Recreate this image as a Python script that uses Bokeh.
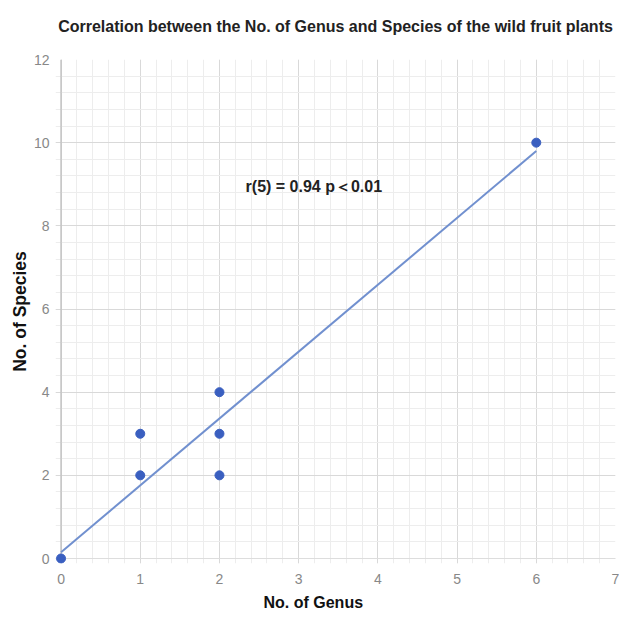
from bokeh.plotting import figure
from bokeh.models import Range1d, SingleIntervalTicker, Label, ColumnDataSource, Span, Title
from bokeh.embed import file_html
from bokeh.resources import INLINE

# Data
genus = [0, 1, 1, 2, 2, 2, 6]
species = [0, 2, 3, 2, 3, 4, 10]
trend_x = [0, 6]
trend_y = [0.15, 9.8]
title_text = "Correlation between the No. of Genus and Species of the wild fruit plants"
x_label = "No. of Genus"
y_label = "No. of Species"
annotation = "r(5) = 0.94 p\uff1c0.01"
annot_x = 2.33
annot_y = 8.95

FONT = "Liberation Sans"

p = figure(width=619, height=621, output_backend="svg", toolbar_location=None, title=None,
           x_range=Range1d(-0.07, 7), y_range=Range1d(-0.12, 12),
           min_border_left=55, min_border_right=4, min_border_top=59, min_border_bottom=58)

# spacer between plot area and title, then the title itself
p.add_layout(Title(text=" ", text_font_size="1px", standoff=22), "above")
p.add_layout(Title(text=title_text, align="center", text_font=FONT, text_font_size="16px",
                   text_font_style="bold", text_color="#222222", standoff=0), "above")

p.outline_line_color = None
p.background_fill_color = "white"
p.border_fill_color = "white"

p.xaxis.ticker = SingleIntervalTicker(interval=1, num_minor_ticks=5)
p.yaxis.ticker = SingleIntervalTicker(interval=2, num_minor_ticks=5)

for ax in (p.xaxis[0], p.yaxis[0]):
    ax.major_tick_line_color = None
    ax.minor_tick_line_color = None
    ax.axis_line_color = None
    ax.major_label_text_font = FONT
    ax.major_label_text_font_size = "14px"
    ax.major_label_text_color = "#888888"
    ax.axis_label_text_font = FONT
    ax.axis_label_text_font_style = "bold"
    ax.axis_label_text_color = "#111111"

p.yaxis.axis_label = y_label
p.yaxis.axis_label_text_font_size = "17.5px"
p.xaxis.major_label_standoff = 4
p.yaxis.major_label_standoff = 0
p.yaxis.axis_label_standoff = 1

for g in (p.xgrid[0], p.ygrid[0]):
    g.grid_line_color = "#d9d9d9"
    g.minor_grid_line_color = "#ededed"

p.add_layout(Span(location=0, dimension="height", line_color="#c4c4c4", line_width=1.5, level="underlay"))
p.add_layout(Span(location=0, dimension="width", line_color="#dddddd", line_width=1, level="underlay"))

src = ColumnDataSource(dict(x=genus, y=species))
p.line(trend_x, trend_y, line_color="#7190cf", line_width=2)
p.scatter("x", "y", source=src, size=9, fill_color="#3a5fc0", line_color="#3a5fc0")

p.add_layout(Label(x=annot_x, y=annot_y, text=annotation, text_font=FONT,
                   text_font_size="16px", text_font_style="bold", text_color="#222222",
                   text_baseline="middle", text_align="left"))

p.add_layout(Title(text=x_label, align="left", offset=208, text_font=FONT,
                   text_font_size="16px", text_font_style="bold", text_color="#111111",
                   standoff=10), "below")

open("out.html", "w").write(file_html(p, INLINE))
